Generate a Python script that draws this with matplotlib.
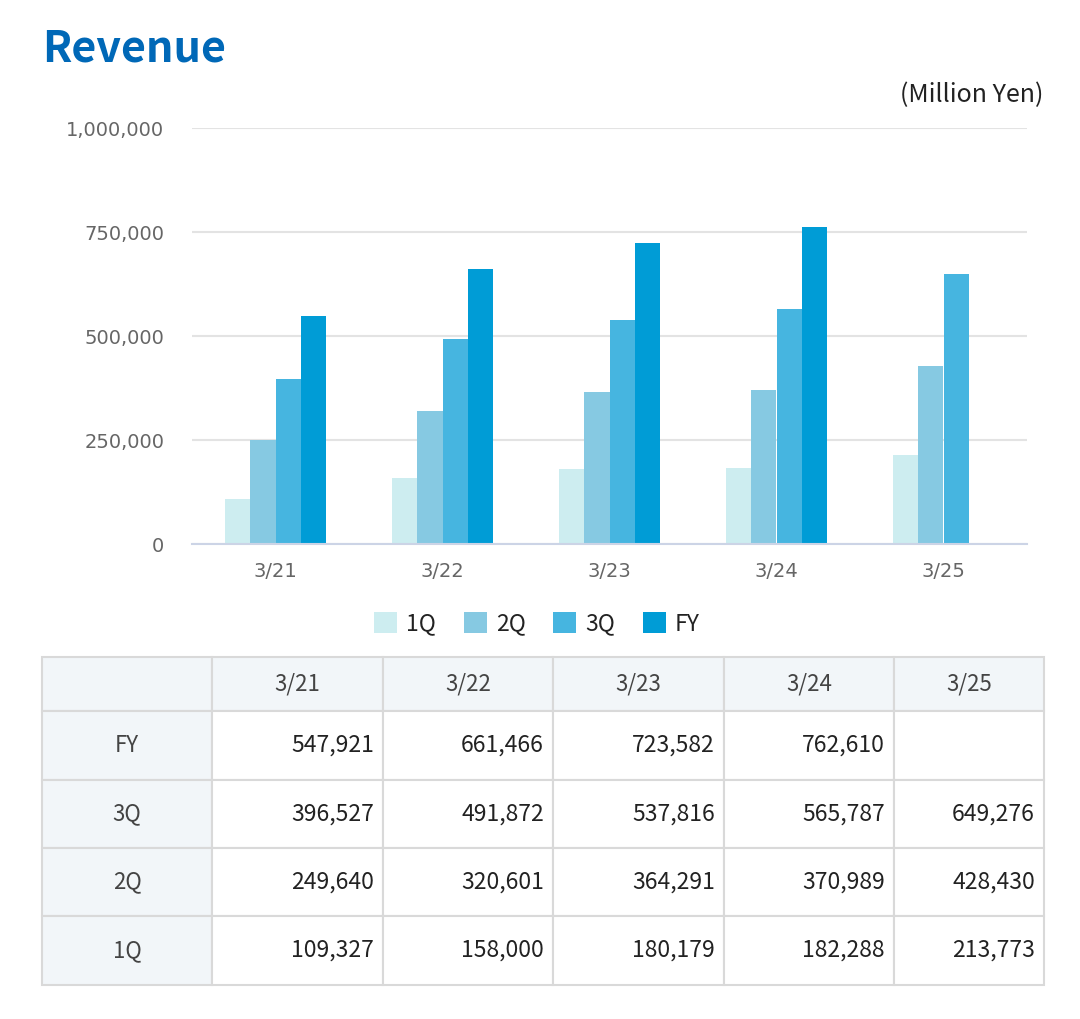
import numpy as np
import matplotlib
matplotlib.use("Agg")
import matplotlib.pyplot as plt
from matplotlib.patches import Rectangle
from matplotlib.ticker import FuncFormatter, MultipleLocator

periods = ["3/21", "3/22", "3/23", "3/24", "3/25"]
series_names = ["1Q", "2Q", "3Q", "FY"]
q1 = [109327, 158000, 180179, 182288, 213773]
q2 = [249640, 320601, 364291, 370989, 428430]
q3 = [396527, 491872, 537816, 565787, 649276]
fy = [547921, 661466, 723582, 762610, None]
colors = ["#cdedf0", "#86c9e2", "#46b5e0", "#009cd6"]

table_rows = ["FY", "3Q", "2Q", "1Q"]
table_data = {"FY": fy, "3Q": q3, "2Q": q2, "1Q": q1}

W, H = 1080, 1019
fig = plt.figure(figsize=(W / 100, H / 100), dpi=100)
JP = ["Noto Sans CJK JP", "DejaVu Sans"]

# ---- chart ----
ax = fig.add_axes([192 / W, 1 - 544 / H, (1027 - 192) / W, (544 - 128) / H])
x = np.arange(len(periods))
bw = 0.15
all_series = [q1, q2, q3, fy]
handles = []
for i, (name, vals, c) in enumerate(zip(series_names, all_series, colors)):
    v = np.array([np.nan if a is None else a for a in vals], dtype=float)
    h = ax.bar(x + (i - 1.5) * bw, v, width=bw, color=c, label=name, zorder=3)
    handles.append(h)

ax.set_xlim(-0.5, len(periods) - 0.5)
ax.set_ylim(0, 1000000)
ax.yaxis.set_major_locator(MultipleLocator(250000))
ax.yaxis.set_major_formatter(FuncFormatter(lambda v, p: f"{int(v):,}"))
ax.grid(axis="y", color="#e3e3e3", linewidth=1.5, zorder=0)
for s in ["top", "right", "left"]:
    ax.spines[s].set_visible(False)
ax.spines["bottom"].set_color("#ccd4e6")
ax.spines["bottom"].set_linewidth(1.5)
ax.spines["bottom"].set_zorder(4)
ax.set_xticks(x)
ax.set_xticklabels(periods)
ax.tick_params(axis="both", length=0, colors="#666666", labelsize=14)
ax.tick_params(axis="y", pad=20)
ax.tick_params(axis="x", pad=13)

leg = fig.legend(handles=handles, labels=series_names, loc="center",
                 bbox_to_anchor=(537 / W, 1 - 624 / H),
                 ncol=4, frameon=False, handlelength=1.0, handleheight=1.0,
                 handletextpad=0.4, columnspacing=1.2,
                 prop={"family": JP, "size": 16.5})
for t in leg.get_texts():
    t.set_color("#222222")

# ---- title texts ----
fig.text(42 / W, 1 - 62 / H, "Revenue", fontsize=31, fontweight="bold",
         color="#0068b7", family=JP, ha="left", va="baseline")
fig.text(1043 / W, 1 - 102 / H, "(Million Yen)", fontsize=18,
         color="#222222", family=JP, ha="right", va="baseline")

# ---- table ----
tax = fig.add_axes([0, 0, 1, 1])
tax.set_xlim(0, W)
tax.set_ylim(H, 0)
tax.axis("off")
col_edges = [42, 212, 383, 553, 724, 894, 1044]
row_edges = [657, 711, 780, 848, 916, 985]
hdr_bg = "#f2f6f9"
border = "#d9d9d9"
for r in range(len(row_edges) - 1):
    for c in range(len(col_edges) - 1):
        x0, x1 = col_edges[c], col_edges[c + 1]
        y0, y1 = row_edges[r], row_edges[r + 1]
        bg = hdr_bg if (r == 0 or c == 0) else "white"
        tax.add_patch(Rectangle((x0, y0), x1 - x0, y1 - y0, facecolor=bg,
                                edgecolor=border, linewidth=1.5))
for c, p in enumerate(periods):
    xc = (col_edges[c + 1] + col_edges[c + 2]) / 2
    yc = (row_edges[0] + row_edges[1]) / 2
    tax.text(xc, yc, p, ha="center", va="center", fontsize=16,
             color="#444444", family=JP)
for r, name in enumerate(table_rows):
    y0, y1 = row_edges[r + 1], row_edges[r + 2]
    yc = (y0 + y1) / 2
    tax.text((col_edges[0] + col_edges[1]) / 2, yc, name, ha="center",
             va="center", fontsize=16, color="#444444", family=JP)
    for c, v in enumerate(table_data[name]):
        if v is None:
            continue
        tax.text(col_edges[c + 2] - 9, yc, f"{v:,}", ha="right", va="center",
                 fontsize=16.5, color="#222222", family=JP)

fig.savefig("out.png", dpi=100, facecolor="white")
